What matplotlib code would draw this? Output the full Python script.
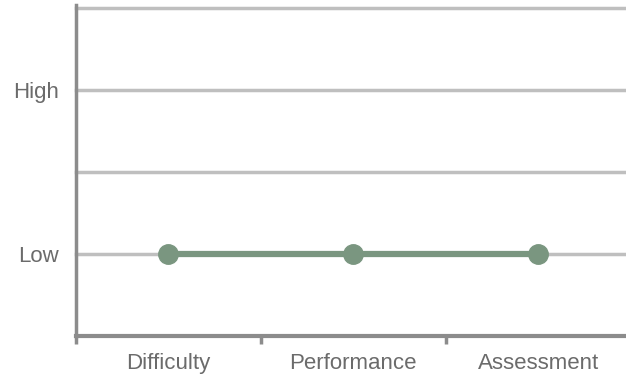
import matplotlib
matplotlib.use("Agg")
import matplotlib.pyplot as plt
from matplotlib.ticker import FixedLocator, NullFormatter

categories = ["Difficulty", "Performance", "Assessment"]
levels = [1, 1, 1]  # 1 = Low, 3 = High
level_ticks = [1, 2, 3, 4]
level_labels = ["Low", "", "High", ""]

plt.rcParams["font.family"] = ["Liberation Sans", "DejaVu Sans"]

W, H, DPI = 626, 385, 100
fig = plt.figure(figsize=(W / DPI, H / DPI), dpi=DPI)
ax = fig.add_axes([76 / W, (H - 336) / H, (630.5 - 76) / W, (336 - 8) / H])

x = list(range(len(categories)))
ax.plot(x, levels, color="#7a9680", lw=4.5, marker="o", ms=14,
        mfc="#7a9680", mec="#7a9680", zorder=3, solid_capstyle="butt")

ax.set_xlim(-0.5, len(categories) - 0.5)
ax.set_ylim(0, 4)

# horizontal grid
for v in level_ticks:
    ax.axhline(v, color="#bfbfbf", lw=2.5, zorder=1, clip_on=False)

ax.set_yticks(level_ticks)
ax.set_yticklabels(level_labels)
ax.tick_params(axis="y", length=0, pad=12, labelsize=16, labelcolor="#6b6b6b")

ax.set_xticks(x)
ax.set_xticklabels(categories)
ax.tick_params(axis="x", which="major", length=0, pad=12.5, labelsize=16,
               labelcolor="#6b6b6b")
ax.xaxis.set_minor_locator(FixedLocator([-0.5 + i for i in range(len(categories) + 1)]))
ax.xaxis.set_minor_formatter(NullFormatter())
ax.tick_params(axis="x", which="minor", length=6, width=2.5, color="#8c8c8c",
               direction="out")

for s in ["top", "right"]:
    ax.spines[s].set_visible(False)
ax.spines["left"].set_color("#8c8c8c")
ax.spines["left"].set_linewidth(2.5)
ax.spines["left"].set_bounds(0, 4.04)
ax.spines["bottom"].set_color("#8c8c8c")
ax.spines["bottom"].set_linewidth(3)

fig.savefig("out.png", dpi=DPI)
